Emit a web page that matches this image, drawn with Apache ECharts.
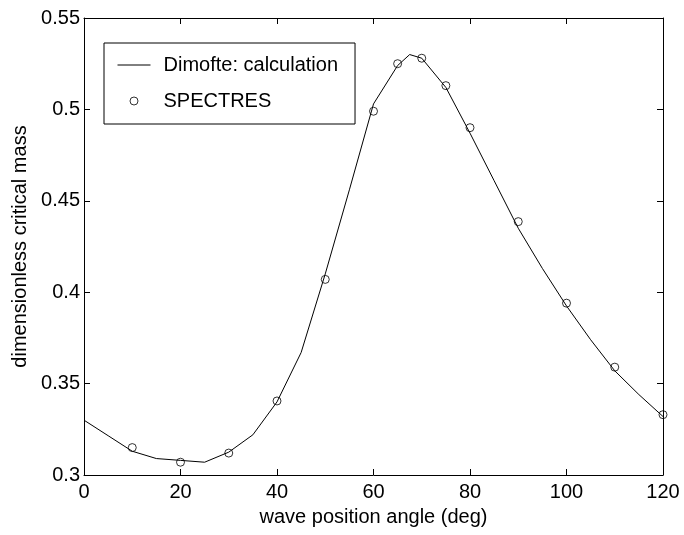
<!DOCTYPE html>
<html>
<head>
<meta charset="utf-8">
<script src="https://cdn.jsdelivr.net/npm/echarts@6/dist/echarts.min.js"></script>
<style>html,body{margin:0;padding:0;background:#fff}#c{width:684px;height:535px}</style>
</head>
<body>
<div id="c"></div>
<script>
var calcAngles = [0,5,10,15,20,25,30,35,40,45,50,55,60,65,67.5,70,75,80,85,90,95,100,105,110,115,120];
var calcValues = [0.330,0.3215,0.313,0.309,0.308,0.307,0.3125,0.322,0.340,0.367,0.410,0.456,0.503,0.524,0.530,0.528,0.512,0.487,0.461,0.435,0.413,0.3925,0.374,0.357,0.344,0.332];
var specAngles = [10,20,30,40,50,60,65,70,75,80,90,100,110,120];
var specValues = [0.315,0.307,0.312,0.3405,0.407,0.499,0.525,0.528,0.513,0.490,0.4386,0.394,0.359,0.333];
var xTicks = [0,20,40,60,80,100,120];
var yTicks = [0.3,0.35,0.4,0.45,0.5,0.55];

var FONT = 'Liberation Sans, Arial, Helvetica, sans-serif';
var FS = 20;
function zip(a,b){return a.map(function(v,i){return [v,b[i]];});}

var chart = echarts.init(document.getElementById('c'));
var axisCommon = {
  axisLine:{show:true,onZero:false,lineStyle:{color:'#000',width:1}},
  axisTick:{show:true,inside:true,length:6,lineStyle:{color:'#000',width:1}},
  splitLine:{show:false}
};
chart.setOption({
  animation:false,
  backgroundColor:'#fff',
  textStyle:{fontFamily:FONT,color:'#000'},
  grid:{left:84,top:18,right:21,bottom:60,containLabel:false},
  legend:{
    left:104, top:43, orient:'vertical',
    backgroundColor:'#fff', borderColor:'#000', borderWidth:1,
    padding:[12,17,13,13], itemGap:16, itemWidth:33, itemHeight:8,
    textStyle:{fontFamily:FONT,fontSize:FS,color:'#000',padding:[0,0,0,8]},
    data:[
      {name:'Dimofte: calculation', itemStyle:{opacity:0}, lineStyle:{width:1,color:'#000'}},
      {name:'SPECTRES', icon:'circle', itemStyle:{color:'transparent',borderColor:'#000',borderWidth:1}}
    ]
  },
  xAxis:[
    Object.assign({type:'value',min:0,max:120,interval:20,position:'bottom',
      name:'wave position angle (deg)',nameLocation:'middle',nameGap:32,
      nameTextStyle:{fontFamily:FONT,fontSize:FS,color:'#000'},
      axisLabel:{fontFamily:FONT,fontSize:FS,color:'#000',margin:7}},axisCommon),
    Object.assign({type:'value',min:0,max:120,interval:20,position:'top',
      axisLabel:{show:false}},axisCommon)
  ],
  yAxis:[
    Object.assign({type:'value',min:0.3,max:0.55,interval:0.05,position:'left',
      name:'dimensionless critical mass',nameLocation:'middle',nameGap:51,
      nameTextStyle:{fontFamily:FONT,fontSize:FS,color:'#000'},
      axisLabel:{fontFamily:FONT,fontSize:FS,color:'#000',margin:4,
        formatter:function(v){return String(Math.round(v*100)/100);}}},axisCommon),
    Object.assign({type:'value',min:0.3,max:0.55,interval:0.05,position:'right',
      axisLabel:{show:false}},axisCommon)
  ],
  series:[
    {name:'Dimofte: calculation',type:'line',data:zip(calcAngles,calcValues),
      symbol:'none',lineStyle:{color:'#000',width:1},itemStyle:{color:'#000'}},
    {name:'SPECTRES',type:'scatter',data:zip(specAngles,specValues),
      symbol:'circle',symbolSize:8,
      itemStyle:{color:'transparent',borderColor:'#000',borderWidth:1}}
  ]
});
</script>
</body>
</html>
